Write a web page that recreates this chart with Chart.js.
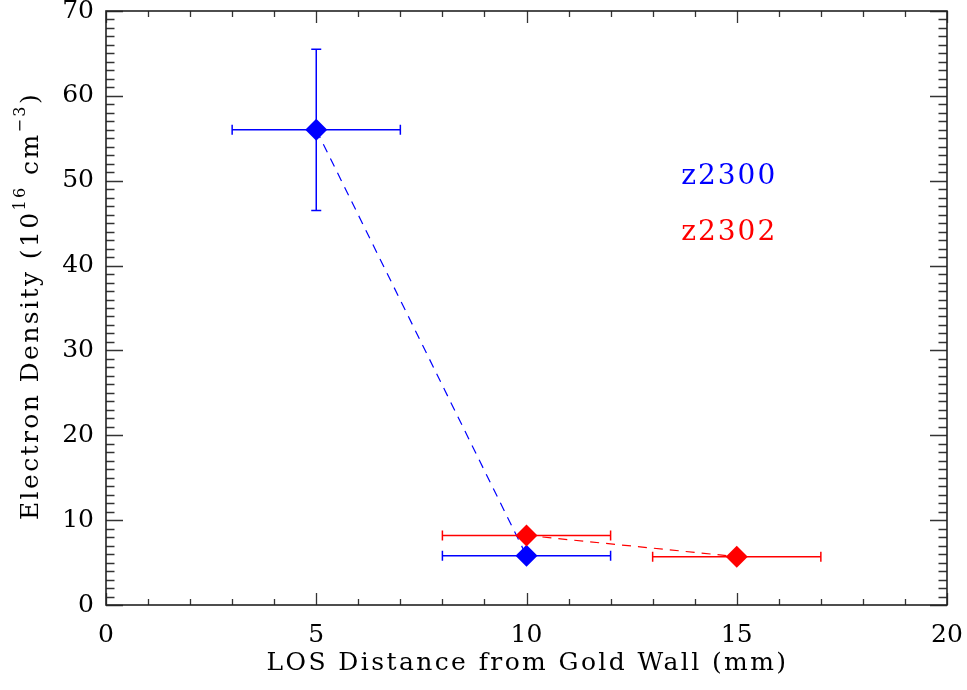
<!DOCTYPE html>
<html>
<head>
<meta charset="utf-8">
<script src="https://cdn.jsdelivr.net/npm/chart.js@4.4.1/dist/chart.umd.min.js"></script>
<style>
  html, body { margin: 0; padding: 0; background: #ffffff; }
  #wrap { width: 967px; height: 690px; }
</style>
</head>
<body>
<div id="wrap"><canvas id="c" width="967" height="690"></canvas></div>
<script>
// Axis ranges and tick labels
const xTickValues = [0, 5, 10, 15, 20];
const yTickValues = [0, 10, 20, 30, 40, 50, 60, 70];

// Shot z2300
const z2300Dist = [5, 10];
const z2300Dens = [56.0, 5.8];
const z2300DistErr = [2, 2];
const z2300DensErr = [9.5, 0];

// Shot z2302
const z2302Dist = [10, 15];
const z2302Dens = [8.2, 5.7];
const z2302DistErr = [2, 2];
const z2302DensErr = [0, 0];

const shotNames = ['z2300', 'z2302'];
const shotColors = ['#0000ff', '#ff0000'];

const xTitle = 'LOS Distance from Gold Wall (mm)';
// y title pieces: [text, superscript?]
const yTitleParts = [['Electron Density (10', false], ['16', true], [' cm', false], ['\u22123', true], [')', false]];

const FONT = '"DejaVu Serif", serif';

function points(xs, ys) {
  return xs.map((x, i) => ({ x: x, y: ys[i] }));
}

const errors = [
  { dx: z2300DistErr, dy: z2300DensErr },
  { dx: z2302DistErr, dy: z2302DensErr }
];

// Horizontal and vertical error bars with end caps
const errorBarPlugin = {
  id: 'errorBars',
  beforeDatasetsDraw(chart) {
    const ctx = chart.ctx;
    const xs = chart.scales.x, ys = chart.scales.y;
    chart.data.datasets.forEach((ds, di) => {
      const err = errors[di];
      ctx.save();
      ctx.strokeStyle = ds.borderColor;
      ctx.lineWidth = 1.5;
      ds.data.forEach((p, i) => {
        const cx = xs.getPixelForValue(p.x);
        const cy = ys.getPixelForValue(p.y);
        const ex = err.dx[i], ey = err.dy[i];
        const cap = 5;
        ctx.beginPath();
        if (ex > 0) {
          const x0 = xs.getPixelForValue(p.x - ex);
          const x1 = xs.getPixelForValue(p.x + ex);
          ctx.moveTo(x0, cy); ctx.lineTo(x1, cy);
          ctx.moveTo(x0, cy - cap); ctx.lineTo(x0, cy + cap);
          ctx.moveTo(x1, cy - cap); ctx.lineTo(x1, cy + cap);
        }
        if (ey > 0) {
          const y0 = ys.getPixelForValue(p.y - ey);
          const y1 = ys.getPixelForValue(p.y + ey);
          ctx.moveTo(cx, y0); ctx.lineTo(cx, y1);
          ctx.moveTo(cx - cap, y0); ctx.lineTo(cx + cap, y0);
          ctx.moveTo(cx - cap, y1); ctx.lineTo(cx + cap, y1);
        }
        ctx.stroke();
      });
      ctx.restore();
    });
  }
};

// Box frame with inward major/minor ticks on all four sides
const framePlugin = {
  id: 'frame',
  afterDraw(chart) {
    const ctx = chart.ctx;
    const a = chart.chartArea;
    const xs = chart.scales.x, ys = chart.scales.y;
    ctx.save();
    ctx.strokeStyle = '#333333';
    ctx.lineWidth = 1.3;
    ctx.beginPath();
    for (let v = xs.min; v <= xs.max; v += 1) {
      const px = Math.round(xs.getPixelForValue(v)) + 0.5;
      const len = (v % 5 === 0) ? 12 : 6;
      ctx.moveTo(px, a.bottom); ctx.lineTo(px, a.bottom - len);
      ctx.moveTo(px, a.top); ctx.lineTo(px, a.top + len);
    }
    for (let v = ys.min; v <= ys.max; v += 1) {
      const py = Math.round(ys.getPixelForValue(v)) + 0.5;
      const len = (v % 10 === 0) ? 17 : 8.5;
      ctx.moveTo(a.left, py); ctx.lineTo(a.left + len, py);
      ctx.moveTo(a.right, py); ctx.lineTo(a.right - len, py);
    }
    ctx.stroke();
    ctx.strokeStyle = '#222222';
    ctx.lineWidth = 1.6;
    ctx.strokeRect(a.left, a.top, a.right - a.left, a.bottom - a.top);
    ctx.restore();
  }
};

// Axis titles (the y title carries raised exponents)
const axisTitlePlugin = {
  id: 'axisTitles',
  afterDraw(chart) {
    const ctx = chart.ctx;
    const a = chart.chartArea;
    ctx.save();
    ctx.fillStyle = '#000000';
    ctx.textBaseline = 'alphabetic';
    ctx.letterSpacing = '2.4px';
    ctx.font = '25px ' + FONT;
    ctx.textAlign = 'center';
    ctx.fillText(xTitle, (a.left + a.right) / 2 + 1, 670);

    const mainFont = '25px ' + FONT;
    const supFont = '16px ' + FONT;
    let total = 0;
    const widths = yTitleParts.map(([t, sup]) => {
      ctx.font = sup ? supFont : mainFont;
      const w = ctx.measureText(t).width;
      total += w;
      return w;
    });
    ctx.translate(38, (a.top + a.bottom) / 2 - 2);
    ctx.rotate(-Math.PI / 2);
    ctx.textAlign = 'left';
    let x = -total / 2;
    yTitleParts.forEach(([t, sup], i) => {
      ctx.font = sup ? supFont : mainFont;
      ctx.fillText(t, x, sup ? -13 : 0);
      x += widths[i];
    });
    ctx.restore();
  }
};

// Coloured shot labels inside the plot
const shotLabelPlugin = {
  id: 'shotLabels',
  afterDraw(chart) {
    const ctx = chart.ctx;
    const a = chart.chartArea;
    const w = a.right - a.left, h = a.bottom - a.top;
    ctx.save();
    ctx.letterSpacing = '2px';
    ctx.font = '28px ' + FONT;
    ctx.textAlign = 'left';
    ctx.textBaseline = 'alphabetic';
    shotNames.forEach((name, i) => {
      ctx.fillStyle = shotColors[i];
      ctx.fillText(name, a.left + w * 0.684, a.top + h * (0.292 + i * 0.094));
    });
    ctx.restore();
  }
};

new Chart(document.getElementById('c'), {
  type: 'scatter',
  data: {
    datasets: [
      {
        label: shotNames[0],
        data: points(z2300Dist, z2300Dens),
        showLine: true,
        borderColor: shotColors[0],
        backgroundColor: shotColors[0],
        borderWidth: 1.2,
        borderDash: [9, 7],
        pointStyle: 'rectRot',
        pointRadius: 11,
        pointBorderWidth: 0,
        order: 2
      },
      {
        label: shotNames[1],
        data: points(z2302Dist, z2302Dens),
        showLine: true,
        borderColor: shotColors[1],
        backgroundColor: shotColors[1],
        borderWidth: 1.2,
        borderDash: [9, 7],
        pointStyle: 'rectRot',
        pointRadius: 11,
        pointBorderWidth: 0,
        order: 1
      }
    ]
  },
  options: {
    responsive: false,
    animation: false,
    devicePixelRatio: 1,
    layout: { padding: { top: 8, right: 20, left: 0, bottom: 0 } },
    plugins: {
      legend: { display: false },
      tooltip: { enabled: false }
    },
    scales: {
      x: {
        type: 'linear',
        min: 0,
        max: 20,
        afterBuildTicks(scale) { scale.ticks = xTickValues.map(v => ({ value: v })); },
        afterFit(scale) {
          scale.height = 85;
          scale.paddingLeft = 0;
          scale.paddingRight = 0;
        },
        grid: { display: true, drawOnChartArea: false, drawTicks: false },
        border: { display: false },
        ticks: {
          color: '#000000',
          font: { family: FONT, size: 25 },
          padding: 15,
          maxRotation: 0
        },
        title: { display: false }
      },
      y: {
        type: 'linear',
        min: 0,
        max: 70,
        afterBuildTicks(scale) { scale.ticks = yTickValues.map(v => ({ value: v })); },
        afterFit(scale) {
          scale.width = 106;
          scale.paddingTop = 0;
          scale.paddingBottom = 0;
        },
        grid: { display: true, drawOnChartArea: false, drawTicks: false },
        border: { display: false },
        ticks: {
          color: '#000000',
          font: { family: FONT, size: 25 },
          padding: 12
        },
        title: { display: false }
      }
    }
  },
  plugins: [errorBarPlugin, framePlugin, axisTitlePlugin, shotLabelPlugin]
});
</script>
</body>
</html>
